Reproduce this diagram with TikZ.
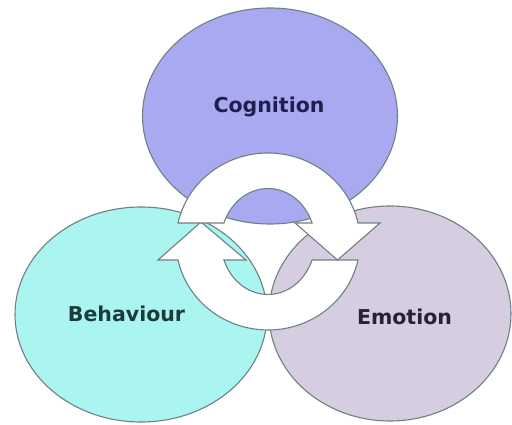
\documentclass[tikz,border=0pt]{standalone}
\usepackage{fontspec}
\setmainfont{DejaVu Sans}
\definecolor{cogfill}{HTML}{A9A9F1}
\definecolor{behfill}{HTML}{ABF5F1}
\definecolor{emofill}{HTML}{D6CDE1}
\definecolor{rimgray}{HTML}{6E8082}
\definecolor{cogtext}{HTML}{1F1F4F}
\definecolor{behtext}{HTML}{1C3B3B}
\definecolor{emotext}{HTML}{2A2132}
\begin{document}
\begin{tikzpicture}[x=1pt,y=1pt,
    blob/.style={draw=rimgray,line width=1.1pt},
    loop/.style={draw=rimgray,fill=white,line width=1.1pt,line join=miter},
    word/.style={font=\fontsize{20.5}{24}\selectfont\bfseries,anchor=base}]
            \useasboundingbox (0,0) rectangle (512,425);
            \filldraw[blob,fill=cogfill] (270,309) ellipse [x radius=127.5pt,y radius=108pt];
            \filldraw[blob,fill=behfill] (141,110.5) ellipse [x radius=126pt,y radius=107.5pt];
            \filldraw[blob,fill=emofill] (390,111.5) ellipse [x radius=121pt,y radius=107.5pt];
            \filldraw[loop] (357.97,165) arc[start angle=-12.07,end angle=-167.93,x radius=92pt,y radius=88.5pt]
                -- (158,165) -- (201,203) -- (246,165) -- (223.95,165)
                arc[start angle=-159.57,end angle=-20.43,x radius=47pt,y radius=53pt] -- cycle;
            \filldraw[loop] (178.03,202) arc[start angle=167.93,end angle=12.07,x radius=92pt,y radius=88.5pt]
                -- (380,202) -- (337.5,165) -- (295,202) -- (312.05,202)
                arc[start angle=20.43,end angle=159.57,x radius=47pt,y radius=53pt] -- cycle;
            \node[word,text=cogtext] (cog) at (269,312.5) {Cognition};
            \node[word,text=behtext] (beh) at (126.5,103.3) {Behaviour};
            \node[word,text=emotext] (emo) at (404.5,100.7) {Emotion};
            \end{tikzpicture}
\end{document}
